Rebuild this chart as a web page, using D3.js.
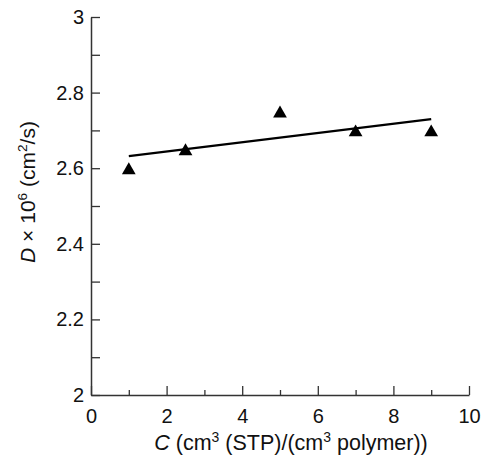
<!DOCTYPE html>
<html><head><meta charset="utf-8">
<script src="https://cdn.jsdelivr.net/npm/d3@7"></script>
<style>body{margin:0;background:#fff}svg{display:block}text{font-family:"Liberation Sans",Arial,sans-serif}</style>
</head><body><svg id="c" width="486" height="459"></svg>
<script>
const concentration = [1, 2.5, 5, 7, 9];
const diffusivity = [2.60, 2.65, 2.75, 2.70, 2.70];
const fitX = [1, 9];
const fitY = [2.632, 2.730];
const xTicks = [0, 2, 4, 6, 8, 10];
const xMinor = [1, 3, 5, 7, 9];
const yTicks = [2, 2.2, 2.4, 2.6, 2.8, 3];
const yMinor = [2.1, 2.3, 2.5, 2.7, 2.9];

const svg = d3.select("#c");
const x = d3.scaleLinear().domain([0, 10]).range([91, 469]);
const y = d3.scaleLinear().domain([2, 3]).range([395, 17]);
const axisColor = "#333";
const fs = 20;
const tfs = 21.5;

// minor ticks
const gx = svg.append("g").attr("transform", `translate(0,${y(2)})`);
gx.call(d3.axisBottom(x).tickValues(xMinor).tickSize(-5).tickFormat(""));
const gx2 = svg.append("g").attr("transform", `translate(0,${y(2)})`);
gx2.call(d3.axisBottom(x).tickValues(xTicks).tickSize(-9).tickSizeOuter(0).tickPadding(14).tickFormat(d3.format("d")));
const gy = svg.append("g").attr("transform", `translate(${x(0)},0)`);
gy.call(d3.axisLeft(y).tickValues(yMinor).tickSize(-9).tickFormat(""));
const gy2 = svg.append("g").attr("transform", `translate(${x(0)},0)`);
gy2.call(d3.axisLeft(y).tickValues(yTicks).tickSize(-9).tickSizeOuter(0).tickPadding(7).tickFormat(d => d3.format("")(+d.toFixed(1))));
svg.selectAll(".domain").attr("stroke", axisColor).attr("stroke-width", 1.5);
svg.selectAll(".tick line").attr("stroke", axisColor).attr("stroke-width", 1.3);
svg.selectAll(".tick text").attr("fill", "#111").attr("font-size", fs).style("font-family", "Liberation Sans, Arial, sans-serif");
gx.selectAll(".domain").remove(); gy.selectAll(".domain").remove();

// fit line
svg.append("line")
  .attr("x1", x(fitX[0])).attr("y1", y(fitY[0]))
  .attr("x2", x(fitX[1])).attr("y2", y(fitY[1]))
  .attr("stroke", "#000").attr("stroke-width", 2.2);

// markers
svg.selectAll("path.pt").data(concentration).join("path")
  .attr("class", "pt")
  .attr("d", d3.symbol().type(d3.symbolTriangle).size(82))
  .attr("transform", (d, i) => `translate(${x(d)},${y(diffusivity[i]) + 2})`)
  .attr("fill", "#000");

// x title
const xt = svg.append("text").attr("x", 291).attr("y", 450).attr("text-anchor", "middle")
  .attr("font-size", tfs).attr("fill", "#111");
xt.append("tspan").attr("font-style", "italic").text("C");
xt.append("tspan").text(" (cm");
xt.append("tspan").attr("font-size", tfs * 0.65).attr("dy", -8).text("3");
xt.append("tspan").attr("dy", 8).text(" (STP)/(cm");
xt.append("tspan").attr("font-size", tfs * 0.65).attr("dy", -8).text("3");
xt.append("tspan").attr("dy", 8).text(" polymer))");

// y title
const yt = svg.append("text").attr("transform", "translate(35,192) rotate(-90)").attr("text-anchor", "middle")
  .attr("font-size", 21).attr("fill", "#111");
yt.append("tspan").attr("font-style", "italic").text("D");
yt.append("tspan").text(" × 10");
yt.append("tspan").attr("font-size", 21 * 0.65).attr("dy", -8).text("6");
yt.append("tspan").attr("dy", 8).text(" (cm");
yt.append("tspan").attr("font-size", 21 * 0.65).attr("dy", -8).text("2");
yt.append("tspan").attr("dy", 8).text("/s)");
</script></body></html>
